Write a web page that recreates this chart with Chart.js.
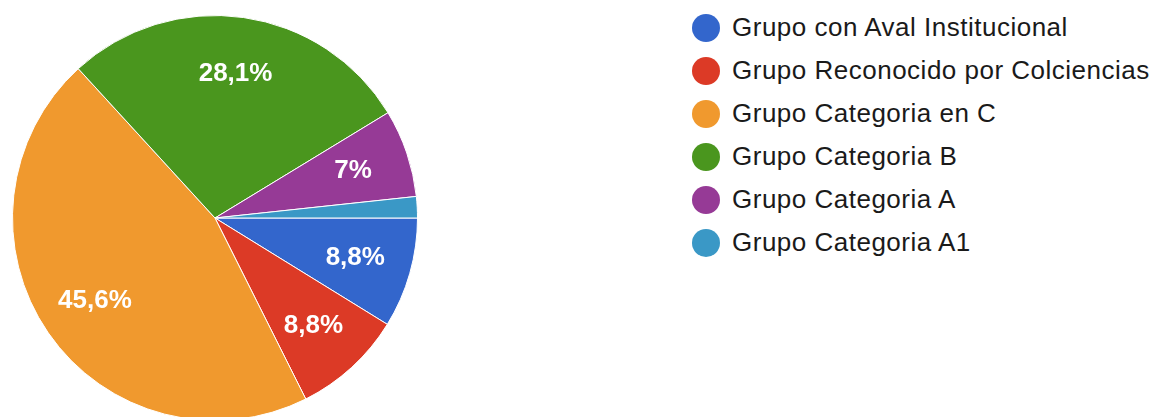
<!DOCTYPE html>
<html>
<head>
<meta charset="utf-8">
<script src="https://cdn.jsdelivr.net/npm/chart.js@4"></script>
<style>
  html, body { margin: 0; padding: 0; background: #fff; width: 1153px; height: 417px; overflow: hidden; }
  #pieWrap { position: absolute; left: 0; top: 0; width: 430px; height: 436px; }
  #legend { position: absolute; left: 692px; top: 6px; font-family: Arial, "Liberation Sans", sans-serif; font-size: 26px; letter-spacing: 0.5px; color: #1a1a1a; }
  .item { display: flex; align-items: center; height: 43px; }
  .dot { width: 28px; height: 28px; border-radius: 50%; margin-right: 12px; }
</style>
</head>
<body>
<div id="pieWrap"><canvas id="groupChart"></canvas></div>
<div id="legend"></div>
<script>
// categories and values (percent)
const categories = ['Grupo con Aval Institucional', 'Grupo Reconocido por Colciencias', 'Grupo Categoria en C', 'Grupo Categoria B', 'Grupo Categoria A', 'Grupo Categoria A1'];
const shares = [8.8, 8.8, 45.6, 28.1, 7, 1.7];
const sliceColors = ['#3366cc', '#dc3a26', '#f0992e', '#4a961e', '#963a96', '#3a98c6'];

// labels inside slices, comma decimal like the original
const sliceLabels = {
    id: 'sliceLabels',
    afterDatasetsDraw(chart) {
        const ctx = chart.ctx;
        const meta = chart.getDatasetMeta(0);
        ctx.save();
        ctx.fillStyle = '#fff';
        ctx.font = 'bold 26px Arial, "Liberation Sans", sans-serif';
        ctx.textAlign = 'center';
        ctx.textBaseline = 'middle';
        meta.data.forEach((arc, i) => {
            const v = shares[i];
            if (v < 5) return;
            const p = arc.getProps(['x', 'y', 'startAngle', 'endAngle', 'outerRadius'], true);
            const mid = (p.startAngle + p.endAngle) / 2;
            const r = p.outerRadius * 0.72;
            const txt = String(v).replace('.', ',') + '%';
            ctx.fillText(txt, p.x + Math.cos(mid) * r, p.y + Math.sin(mid) * r);
        });
        ctx.restore();
    }
};

const groupCtx = document.getElementById('groupChart').getContext('2d');
new Chart(groupCtx, {
    type: 'pie',
    data: {
        labels: categories,
        datasets: [{
            data: shares,
            backgroundColor: sliceColors,
            borderColor: '#fff',
            borderWidth: 1
        }]
    },
    options: {
        responsive: true,
        maintainAspectRatio: false,
        animation: false,
        rotation: 90,
        layout: { padding: { left: 12, right: 12, top: 15, bottom: 15 } },
        plugins: { legend: { display: false }, tooltip: { enabled: false } }
    },
    plugins: [sliceLabels]
});

// legend
const legendEl = document.getElementById('legend');
categories.forEach((name, i) => {
    const row = document.createElement('div');
    row.className = 'item';
    const dot = document.createElement('span');
    dot.className = 'dot';
    dot.style.background = sliceColors[i];
    const txt = document.createElement('span');
    txt.textContent = name;
    row.appendChild(dot);
    row.appendChild(txt);
    legendEl.appendChild(row);
});
</script>
</body>
</html>
